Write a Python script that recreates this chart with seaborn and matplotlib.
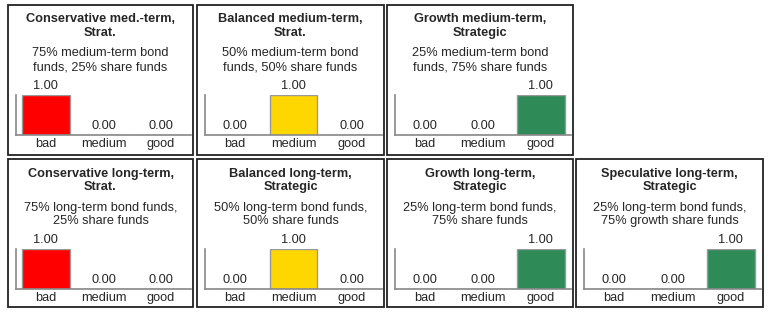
import matplotlib
matplotlib.use('Agg')
import pandas as pd
import seaborn as sns
from matplotlib import pyplot as plt
from matplotlib.patches import Rectangle

# data
categories = ['bad', 'medium', 'good']
titles = ['Conservative med.-term,\nStrat.',
          'Balanced medium-term,\nStrat.',
          'Growth medium-term,\nStrategic',
          'Conservative long-term,\nStrat.',
          'Balanced long-term,\nStrategic',
          'Growth long-term,\nStrategic',
          'Speculative long-term,\nStrategic']
subtitles = ['75% medium-term bond\nfunds, 25% share funds',
             '50% medium-term bond\nfunds, 50% share funds',
             '25% medium-term bond\nfunds, 75% share funds',
             '75% long-term bond funds,\n25% share funds',
             '50% long-term bond funds,\n50% share funds',
             '25% long-term bond funds,\n75% share funds',
             '25% long-term bond funds,\n75% growth share funds']
bad_vals = [1.0, 0.0, 0.0, 1.0, 0.0, 0.0, 0.0]
medium_vals = [0.0, 1.0, 0.0, 0.0, 1.0, 0.0, 0.0]
good_vals = [0.0, 0.0, 1.0, 0.0, 0.0, 1.0, 1.0]
bar_colors = {'bad': '#FF0000', 'medium': '#FFD700', 'good': '#2E8B57'}

sns.set_style('white')
plt.rcParams['font.family'] = ['Liberation Sans', 'DejaVu Sans']

W, H = 768, 314
fig = plt.figure(figsize=(W / 100, H / 100), dpi=100)

# panel boxes in pixels: (left, top, right, bottom)
cols = [(8, 193), (197, 384), (387, 573), (576, 763)]
rows = [(5, 155), (159, 307)]
slots = [(0, 0), (0, 1), (0, 2), (1, 0), (1, 1), (1, 2), (1, 3)]
fs = 9.2

for i, (r, c) in enumerate(slots):
    x0, x1 = cols[c]
    y0, y1 = rows[r]
    fig.patches.append(Rectangle((x0 / W, 1 - y1 / H), (x1 - x0) / W, (y1 - y0) / H,
                                 transform=fig.transFigure, fill=False,
                                 edgecolor='#222222', linewidth=1.3))
    cx = (x0 + x1) / 2 / W
    fig.text(cx, 1 - (y0 + 8.5) / H, titles[i], ha='center', va='top',
             fontsize=fs, fontweight='bold', linespacing=1.22)
    fig.text(cx, 1 - (y0 + 42.5) / H, subtitles[i], ha='center', va='top',
             fontsize=fs, linespacing=1.18)

    ax_top = y0 + 90
    ax_bot = y0 + 130
    ax = fig.add_axes([(x0 + 8) / W, 1 - ax_bot / H, (x1 - x0 - 10) / W, (ax_bot - ax_top) / H])
    df = pd.DataFrame({'cat': categories,
                       'val': [bad_vals[i], medium_vals[i], good_vals[i]]})
    sns.barplot(data=df, x='cat', y='val', hue='cat', palette=bar_colors, saturation=1,
                width=0.82, edgecolor='#999999', linewidth=1, legend=False, ax=ax)
    ax.set_xlim(-0.52, 2.52)
    ax.set_ylim(0, 1)
    ax.set_xlabel('')
    ax.set_ylabel('')
    ax.set_yticks([])
    ax.tick_params(axis='x', length=0, pad=2.5, labelsize=fs)
    for s in ['top', 'right']:
        ax.spines[s].set_visible(False)
    for s in ['left', 'bottom']:
        ax.spines[s].set_color('#888888')
        ax.spines[s].set_linewidth(1.2)
    for p in ax.patches:
        ax.annotate(f'{p.get_height():.2f}', (p.get_x() + p.get_width() / 2, p.get_height()),
                    ha='center', va='bottom', xytext=(0, 2), textcoords='offset points',
                    fontsize=fs, annotation_clip=False)

fig.savefig('out.png', dpi=100)
